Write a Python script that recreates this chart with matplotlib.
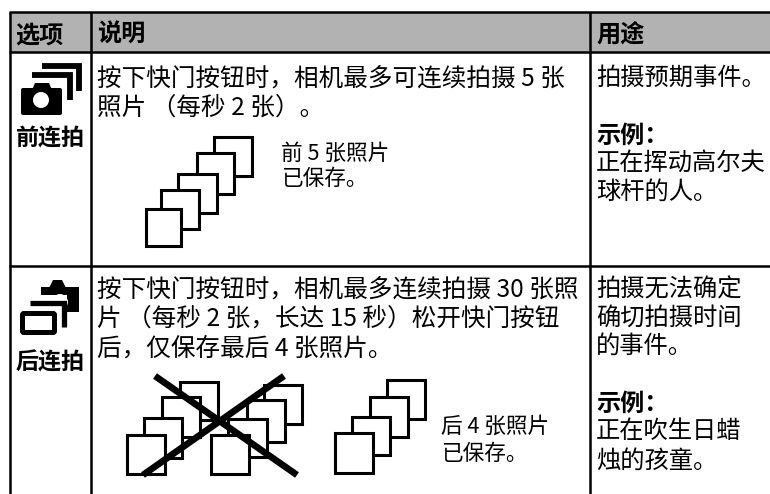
import matplotlib.pyplot as plt
from matplotlib.patches import Rectangle, Circle, Polygon, FancyBboxPatch

plt.rcParams["font.family"] = ["Noto Sans CJK SC", "DejaVu Sans"]

HEADERS = ["选项", "说明", "用途"]
MODES = ["前连拍", "后连拍"]

ROW1_DESC = ["按下快门按钮时，相机最多可连续拍摄 5 张", "照片 （每秒 2 张）。"]
ROW1_NOTE = ["前 5 张照片", "已保存。"]
ROW1_USE = ["拍摄预期事件。"]
ROW1_EXAMPLE = ["正在挥动高尔夫", "球杆的人。"]

ROW2_DESC = [
    "按下快门按钮时，相机最多连续拍摄 30 张照",
    "片 （每秒 2 张，长达 15 秒）松开快门按钮",
    "后，仅保存最后 4 张照片。",
]
ROW2_NOTE = ["后 4 张照片", "已保存。"]
ROW2_USE = ["拍摄无法确定", "确切拍摄时间", "的事件。"]
ROW2_EXAMPLE = ["正在吹生日蜡", "烛的孩童。"]
EXAMPLE_LABEL = "示例："

BODY_SIZE = 17.7
USE_SIZE = 17.5
NOTE_SIZE = 15.6
HEAD_SIZE = 17.4
MODE_SIZE = 16.6


def put_lines(ax, x, y_list, lines, size, weight="normal"):
    # y is the middle of the glyphs, baseline sits a bit under it
    for y, line in zip(y_list, lines):
        ax.text(x, y + size * 0.46, line, fontsize=size, fontweight=weight, va="baseline", ha="left", color="black")


def draw_stack(ax, boxes):
    # back to front, each one white so it hides the one behind
    for x0, y0, x1, y1 in boxes:
        ax.add_patch(Rectangle((x0, y0), x1 - x0, y1 - y0, facecolor="white", edgecolor="black", linewidth=2.2, joinstyle="miter"))


def draw_arc(ax, xs, ys, lw=4.2):
    ax.plot(xs, ys, color="black", linewidth=lw, solid_capstyle="butt", solid_joinstyle="miter")


def draw_front_icon(ax):
    draw_arc(ax, [42, 79, 79], [66, 66, 91])
    draw_arc(ax, [32, 70, 70], [75, 75, 100])
    ax.add_patch(FancyBboxPatch((23, 90), 37, 23, boxstyle="round,pad=2,rounding_size=2", facecolor="black", edgecolor="none"))
    ax.add_patch(Polygon([(32, 90), (35, 83), (49, 83), (52, 90)], facecolor="black", edgecolor="none"))
    ax.add_patch(Circle((41, 100), 8, facecolor="white", edgecolor="none"))


def draw_back_icon(ax):
    ax.add_patch(Rectangle((41, 287), 38, 25, facecolor="black", edgecolor="none"))
    ax.add_patch(Polygon([(49, 288), (53, 280), (62, 280), (66, 288)], facecolor="black", edgecolor="none"))
    ax.add_patch(Rectangle((40, 295), 27, 19, facecolor="white", edgecolor="none"))
    ax.add_patch(Circle((60, 302), 8, facecolor="white", edgecolor="none"))
    draw_arc(ax, [30, 64, 64], [303, 303, 327], lw=3.8)
    ax.add_patch(FancyBboxPatch((22.5, 313.5), 32, 19, boxstyle="round,pad=0,rounding_size=1.5", facecolor="white", edgecolor="black", linewidth=3.6))


def main():
    fig = plt.figure(figsize=(7.7, 4.94), dpi=100)
    ax = fig.add_axes([0, 0, 1, 1])
    ax.set_xlim(0, 770)
    ax.set_ylim(494, 0)
    ax.axis("off")

    ax.add_patch(Rectangle((10, 12), 760, 40, facecolor="#b2b2b2", edgecolor="none"))
    for x in [10, 90.7, 589.7]:
        ax.plot([x, x], [12, 494], color="black", linewidth=1.8, solid_capstyle="butt")
    for y in [12, 52.3, 265.7]:
        ax.plot([9, 770], [y, y], color="black", linewidth=1.8, solid_capstyle="butt")

    put_lines(ax, 15, [34], HEADERS[0:1], HEAD_SIZE, "bold")
    put_lines(ax, 97, [34], HEADERS[1:2], HEAD_SIZE, "bold")
    put_lines(ax, 596, [34], HEADERS[2:3], HEAD_SIZE, "bold")

    draw_front_icon(ax)
    draw_back_icon(ax)
    put_lines(ax, 15.5, [138], MODES[0:1], MODE_SIZE, "bold")
    put_lines(ax, 15.5, [362], MODES[1:2], MODE_SIZE, "bold")

    put_lines(ax, 97, [77, 106], ROW1_DESC, BODY_SIZE)
    put_lines(ax, 281, [153, 178], ROW1_NOTE, NOTE_SIZE)
    put_lines(ax, 596, [77], ROW1_USE, USE_SIZE)
    put_lines(ax, 596, [135], [EXAMPLE_LABEL], HEAD_SIZE, "bold")
    put_lines(ax, 596, [162, 191], ROW1_EXAMPLE, USE_SIZE)

    put_lines(ax, 97, [288, 317, 347], ROW2_DESC, BODY_SIZE)
    put_lines(ax, 441, [426, 453], ROW2_NOTE, NOTE_SIZE)
    put_lines(ax, 596, [288, 317, 345], ROW2_USE, USE_SIZE)
    put_lines(ax, 596, [403], [EXAMPLE_LABEL], HEAD_SIZE, "bold")
    put_lines(ax, 596, [430, 460], ROW2_EXAMPLE, USE_SIZE)

    draw_stack(ax, [(214, 137, 252, 176), (197, 153, 234, 194), (178, 174, 217, 213), (161, 190, 199, 229), (146, 209, 181, 246)])

    draw_stack(ax, [(180, 382, 218, 420), (162, 397, 200, 437), (144, 418, 182, 458), (127, 435, 165, 474)])
    draw_stack(ax, [(264, 385, 302, 424), (247, 400, 285, 442), (228, 419, 267, 457), (211, 435, 249, 474)])
    ax.plot([155, 297], [376, 475], color="black", linewidth=4.8, solid_capstyle="butt")
    ax.plot([143, 284], [475, 376], color="black", linewidth=4.8, solid_capstyle="butt")

    draw_stack(ax, [(387, 380, 425, 419), (370, 397, 408, 437), (352, 417, 390, 455), (335, 433, 373, 473)])

    fig.savefig("out.png", dpi=100)


if __name__ == "__main__":
    main()
